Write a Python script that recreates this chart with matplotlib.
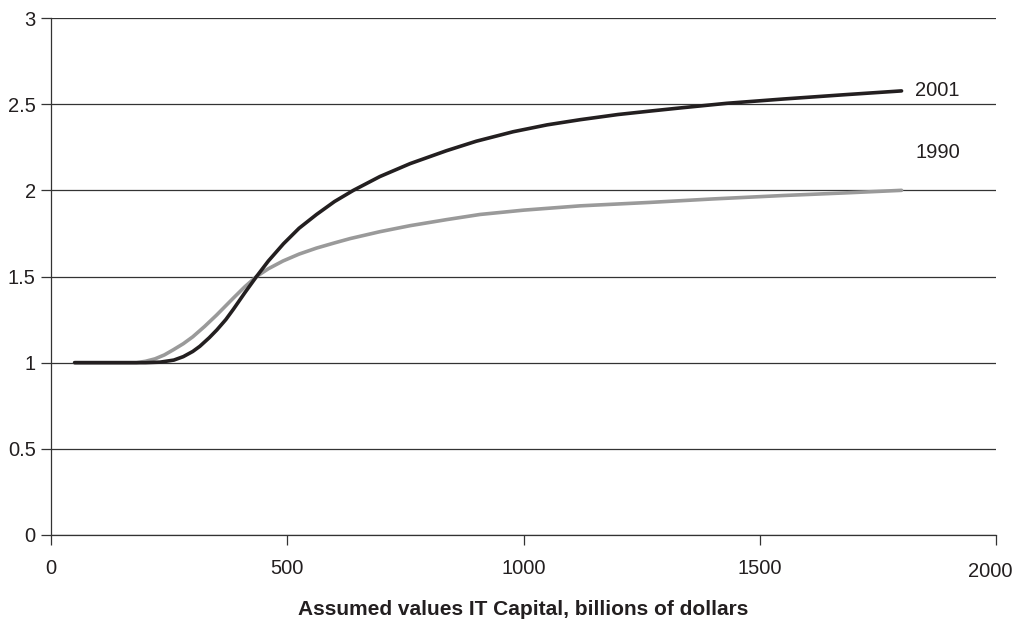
import matplotlib.pyplot as plt
from matplotlib.transforms import ScaledTranslation

# Values
x_1990 = [50, 100, 150, 181, 200, 220, 240, 259, 280, 300, 325, 350, 386, 410,
          435, 460, 491, 525, 562, 600, 633, 696, 760, 837, 908, 1000, 1120,
          1268, 1400, 1550, 1680, 1800]
y_1990 = [1.0, 1.0, 1.0, 1.0, 1.008, 1.022, 1.045, 1.075, 1.11, 1.15, 1.21,
          1.275, 1.375, 1.44, 1.5, 1.545, 1.59, 1.63, 1.665, 1.695, 1.72, 1.76,
          1.795, 1.83, 1.86, 1.885, 1.91, 1.93, 1.95, 1.97, 1.985, 2.0]

x_2001 = [50, 100, 150, 200, 231, 260, 280, 300, 315, 335, 351, 370, 386, 410,
          435, 460, 492, 525, 562, 600, 640, 696, 760, 837, 900, 978, 1050,
          1120, 1200, 1268, 1331, 1430, 1550, 1680, 1800]
y_2001 = [1.0, 1.0, 1.0, 1.0, 1.003, 1.015, 1.035, 1.065, 1.095, 1.145, 1.19,
          1.25, 1.31, 1.405, 1.5, 1.59, 1.69, 1.78, 1.86, 1.935, 2.0, 2.08,
          2.155, 2.23, 2.285, 2.34, 2.38, 2.41, 2.44, 2.46, 2.478, 2.505,
          2.53, 2.555, 2.577]

x_ticks = [0, 500, 1000, 1500, 2000]
y_ticks = [0, 0.5, 1, 1.5, 2, 2.5, 3]
y_tick_labels = ['0', '0.5', '1', '1.5', '2', '2.5', '3']

TEXT = '#231f20'
plt.rcParams['font.family'] = ['Liberation Sans', 'DejaVu Sans']

fig = plt.figure(figsize=(10.24, 6.21), dpi=100)
ax = fig.add_axes([0.0498, 0.1385, 0.9229, 0.8325])

ax.plot(x_1990, y_1990, color='#9a9a9a', lw=2.6, solid_capstyle='round',
        solid_joinstyle='round', zorder=3)
ax.plot(x_2001, y_2001, color='#231f20', lw=2.6, solid_capstyle='round',
        solid_joinstyle='round', zorder=4)

ax.text(1829, 2.58, '2001', fontsize=14.5, color=TEXT, va='center', ha='left')
ax.text(1829, 2.22, '1990', fontsize=14.5, color=TEXT, va='center', ha='left')

ax.set_xlim(0, 2000)
ax.set_ylim(0, 3)
ax.set_xticks(x_ticks)
ax.set_xticklabels([str(v) for v in x_ticks])
ax.set_yticks(y_ticks)
ax.set_yticklabels(y_tick_labels)

ax.grid(axis='y', color='#333333', lw=0.9)
ax.set_axisbelow(True)
for side in ['top', 'right']:
    ax.spines[side].set_visible(False)
for side in ['left', 'bottom']:
    ax.spines[side].set_color('#333333')
    ax.spines[side].set_linewidth(0.9)

ax.tick_params(axis='both', direction='out', length=7, width=0.9, color='#333333',
               labelsize=14.5, labelcolor=TEXT)
ax.tick_params(axis='y', pad=4)
ax.tick_params(axis='x', pad=10)

# last x label sits a little left and lower in the original
last = ax.get_xticklabels()[-1]
last.set_transform(last.get_transform() + ScaledTranslation(-0.06, -0.03, fig.dpi_scale_trans))

ax.set_xlabel('Assumed values IT Capital, billions of dollars', fontsize=15,
              fontweight='bold', color=TEXT, labelpad=14)

fig.savefig('out.png', dpi=100)
